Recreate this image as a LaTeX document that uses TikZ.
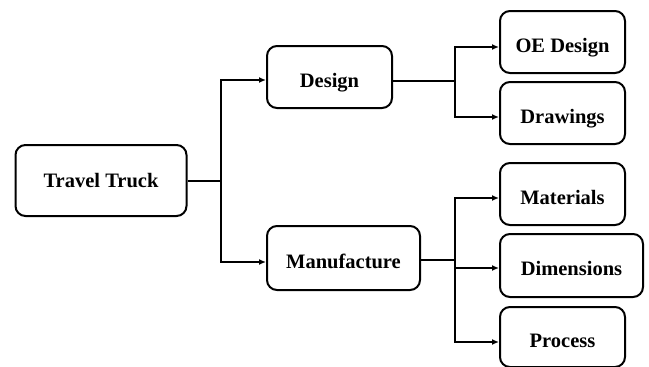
\documentclass[tikz,border=0pt]{standalone}
\usepackage{fontspec}
\setmainfont{Liberation Serif}
\usetikzlibrary{arrows.meta}
\begin{document}
\begin{tikzpicture}[x=1pt,y=-1pt,
  box/.style={draw,line width=2pt,rounded corners=10pt,font=\bfseries\fontsize{20.5}{23}\selectfont,inner sep=0pt,text height=20pt,text depth=0pt},
  conn/.style={line width=2pt},
  arr/.style={line width=2pt,-{Latex[length=7pt,width=6pt]}}]
\useasboundingbox (0,0) rectangle (649,367);
\node[box,minimum width=171pt,minimum height=71pt,text height=13pt] (tt) at (101,180.5) {Travel Truck};
\node[box,minimum width=125pt,minimum height=62pt] (de) at (329.5,77) {Design};
\node[box,minimum width=153pt,minimum height=64pt] (ma) at (343.5,258) {Manufacture};
\node[box,minimum width=125pt,minimum height=62pt] (oe) at (562.5,42) {OE Design};
\node[box,minimum width=125pt,minimum height=62pt] (dr) at (562.5,113) {Drawings};
\node[box,minimum width=125pt,minimum height=62pt] (mt) at (562.5,194) {Materials};
\node[box,minimum width=143pt,minimum height=63pt] (di) at (571.5,265.5) {Dimensions};
\node[box,minimum width=125pt,minimum height=60pt] (pr) at (562.5,337) {Process};
\coordinate (j1) at (221,181);
\coordinate (j2) at (455,81);
\coordinate (j3) at (455,260);
\draw[conn] (tt.east |- j1) -- (j1);
\draw[arr] (j1) |- (de.west |- 0,80);
\draw[arr] (j1) |- (ma.west |- 0,262);
\draw[conn] (de.east |- j2) -- (j2);
\draw[arr] (j2) |- (oe.west |- 0,47);
\draw[arr] (j2) |- (dr.west |- 0,117);
\draw[conn] (ma.east |- j3) -- (j3);
\draw[arr] (j3) |- (mt.west |- 0,198);
\draw[arr] (j3) |- (di.west |- 0,268);
\draw[arr] (j3) |- (pr.west |- 0,342);
\end{tikzpicture}
\end{document}
